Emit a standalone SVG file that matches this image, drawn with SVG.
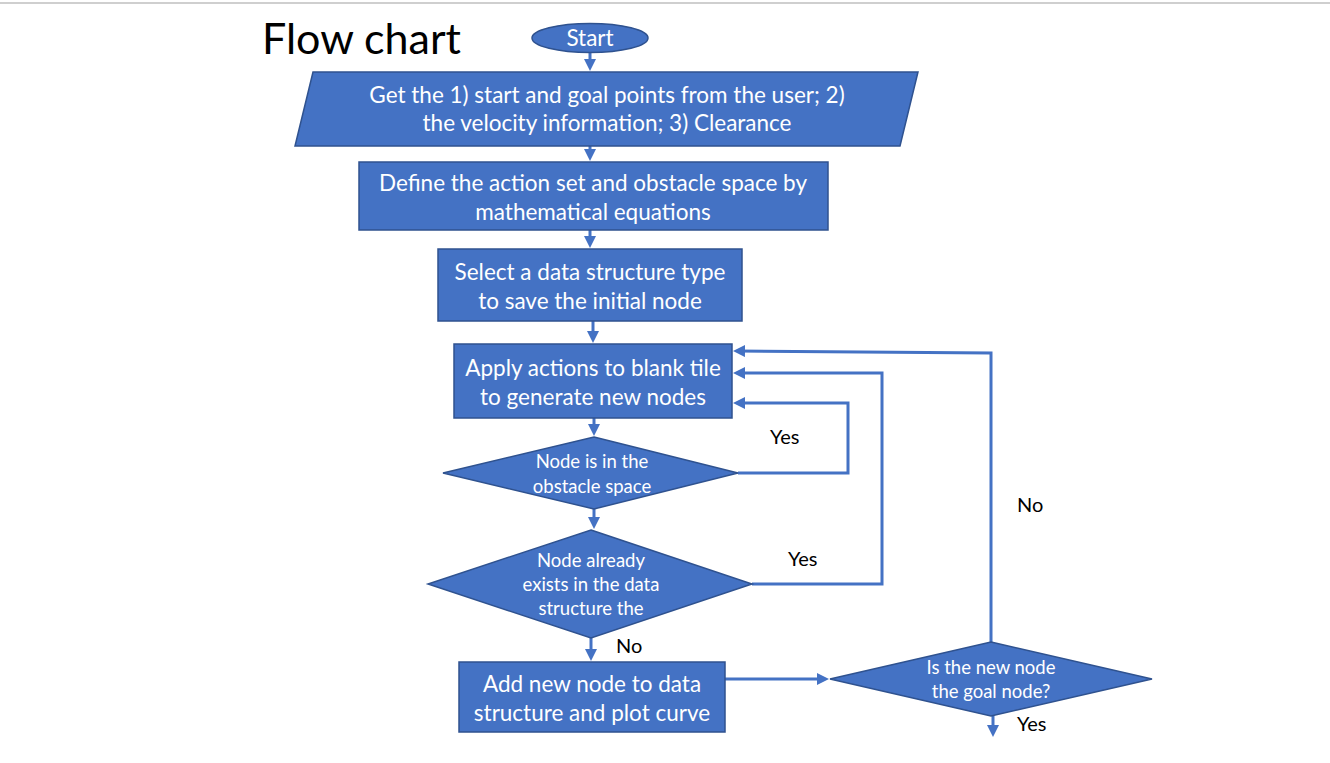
<svg xmlns="http://www.w3.org/2000/svg" width="1330" height="763" viewBox="0 0 1330 763">
<defs>
<style>
.shape{fill:#4472C4;stroke:#2F528F;stroke-width:1.5}
.t{font-family:Lato,"Open Sans",sans-serif;fill:#ffffff;text-anchor:middle}
.big{font-size:22.5px}
.small{font-size:18.5px}
.lbl{font-family:Lato,"Open Sans",sans-serif;fill:#000;font-size:20px}
.c{fill:none;stroke:#4472C4;stroke-width:3}
</style>
<marker id="ah" markerWidth="12" markerHeight="12" refX="7" refY="6" orient="auto" markerUnits="userSpaceOnUse" viewBox="0 0 12 12">
<path d="M0,0 L12,6 L0,12 z" fill="#4472C4"/>
</marker>
</defs>
<rect x="0" y="0" width="1330" height="763" fill="#ffffff"/>
<line x1="0" y1="3" x2="1330" y2="3" stroke="#cfcfcf" stroke-width="2"/>
<text x="262" y="54" style="font-family:Lato,'Open Sans',sans-serif;font-size:43px;fill:#000">Flow chart</text>

<g id="connectors">
<line class="c" x1="590" y1="53" x2="590" y2="66" marker-end="url(#ah)"/>
<line class="c" x1="590" y1="146" x2="590" y2="156" marker-end="url(#ah)"/>
<line class="c" x1="590" y1="230" x2="590" y2="243" marker-end="url(#ah)"/>
<line class="c" x1="593" y1="321" x2="593" y2="338" marker-end="url(#ah)"/>
<line class="c" x1="594" y1="418" x2="594" y2="431" marker-end="url(#ah)"/>
<polyline class="c" points="738,473 848,473 848,403 738,403" marker-end="url(#ah)"/>
<line class="c" x1="594" y1="509" x2="594" y2="524" marker-end="url(#ah)"/>
<polyline class="c" points="752,584 882,584 882,373 738,373" marker-end="url(#ah)"/>
<line class="c" x1="591" y1="636" x2="591" y2="656" marker-end="url(#ah)"/>
<line class="c" x1="725" y1="679" x2="824" y2="679" marker-end="url(#ah)"/>
<polyline class="c" points="991,642 991,353 738,351" marker-end="url(#ah)"/>
<line class="c" x1="993" y1="716" x2="993" y2="732" marker-end="url(#ah)"/>
<text class="lbl" x="770" y="444">Yes</text>
<text class="lbl" x="788" y="566">Yes</text>
<text class="lbl" x="616" y="653">No</text>
<text class="lbl" x="1017" y="512">No</text>
<text class="lbl" x="1017" y="731">Yes</text>
</g>

<g id="start">
<ellipse class="shape" cx="590" cy="38" rx="58" ry="14.5"/>
<text class="t big" x="590" y="46">Start</text>
</g>
<g id="input">
<polygon class="shape" points="313,72 918,72 900,146 295,146"/>
<text class="t big" x="607" y="103">Get the 1) start and goal points from the user; 2)</text>
<text class="t big" x="607" y="131">the velocity information; 3) Clearance</text>
</g>
<g id="define">
<rect class="shape" x="359" y="162" width="469" height="68"/>
<text class="t big" x="593" y="191">Define the action set and obstacle space by</text>
<text class="t big" x="593" y="220">mathematical equations</text>
</g>
<g id="select">
<rect class="shape" x="438" y="249" width="304" height="72"/>
<text class="t big" x="590" y="280">Select a data structure type</text>
<text class="t big" x="590" y="309">to save the initial node</text>
</g>
<g id="apply">
<rect class="shape" x="454" y="344" width="278" height="74"/>
<text class="t big" x="593" y="376">Apply actions to blank tile</text>
<text class="t big" x="593" y="405">to generate new nodes</text>
</g>
<g id="obstacle">
<polygon class="shape" points="594,437 738,473 594,509 443,473"/>
<text class="t small" x="592" y="468">Node is in the</text>
<text class="t small" x="592" y="493">obstacle space</text>
</g>
<g id="exists">
<polygon class="shape" points="591,530 752,584 591,638 428,584"/>
<text class="t small" x="591" y="567">Node already</text>
<text class="t small" x="591" y="591">exists in the data</text>
<text class="t small" x="591" y="615">structure the</text>
</g>
<g id="add">
<rect class="shape" x="459" y="662" width="266" height="70"/>
<text class="t big" x="592" y="692">Add new node to data</text>
<text class="t big" x="592" y="721">structure and plot curve</text>
</g>
<g id="goal">
<polygon class="shape" points="991,642 1152,679 991,716 830,679"/>
<text class="t small" x="991" y="674">Is the new node</text>
<text class="t small" x="991" y="698">the goal node?</text>
</g>
</svg>
